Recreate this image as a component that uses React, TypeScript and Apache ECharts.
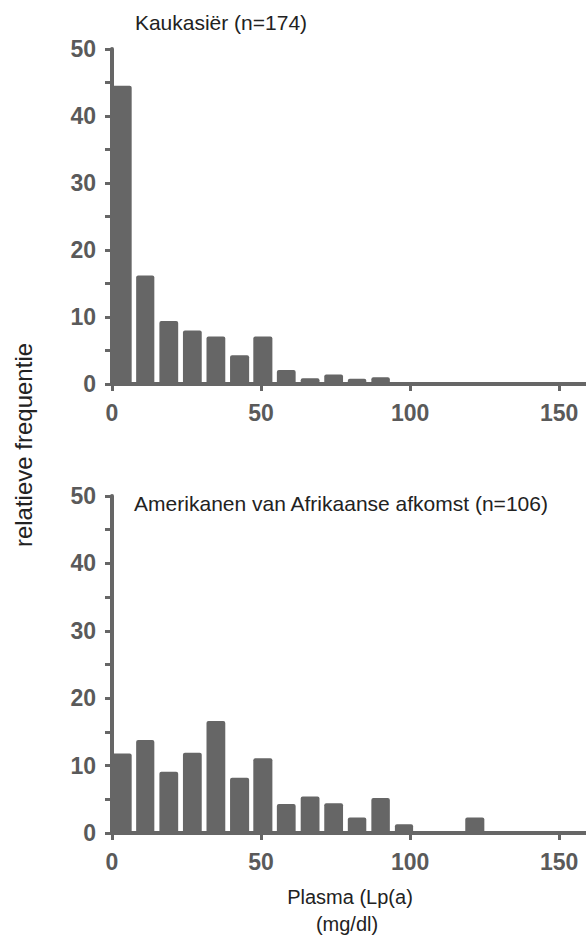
import React, { useEffect, useRef } from "react";
import * as echarts from "echarts";

// Bin edges (mg/dl) shared by both histograms
const binLeft = [0, 8.1, 15.9, 23.8, 31.7, 39.6, 47.4, 55.3, 63.3, 71.2, 79.1, 87.0, 94.9, 102.8, 110.7, 118.5];
const binRight = [6.6, 14.2, 22.2, 30.1, 38.0, 46.0, 53.8, 61.6, 69.6, 77.5, 85.3, 93.2, 101.0, 108.9, 116.8, 124.9];

// Relative frequency (%)
const caucasianValues = [44.5, 16.2, 9.4, 8.0, 7.1, 4.3, 7.1, 2.1, 0.85, 1.4, 0.8, 1.0];
const africanAmericanValues = [11.8, 13.8, 9.1, 11.9, 16.6, 8.2, 11.1, 4.3, 5.4, 4.4, 2.3, 5.2, 1.3, 0, 0, 2.3];

const xTicks = [0, 50, 100, 150];
const titleTop = "Kaukasiër (n=174)";
const titleBottom = "Amerikanen van Afrikaanse afkomst (n=106)";
const yName = "relatieve frequentie";
const xNameLine1 = "Plasma (Lp(a)";
const xNameLine2 = "(mg/dl)";

const AXIS_COLOR = "#666666";
const NUM_FONT = "'Liberation Sans', Arial, sans-serif";
const TEXT_FONT = "'Liberation Sans', Arial, sans-serif";

function toData(values: number[]) {
  return values.map((v, i) => [binLeft[i], binRight[i], v]);
}

export default function App() {
  const ref = useRef<HTMLDivElement>(null);

  useEffect(() => {
    if (!ref.current) return;
    const chart = echarts.init(ref.current, null, { renderer: "svg" });

    const xAxisBase = (gridIndex: number) => ({
      type: "value",
      gridIndex,
      min: 0,
      max: 159,
      interval: 50,
      splitLine: { show: false },
      axisLine: { show: true, lineStyle: { color: AXIS_COLOR, width: 4 } },
      axisTick: { show: true, customValues: xTicks, length: 7, lineStyle: { color: AXIS_COLOR, width: 3 } },
      axisLabel: {
        customValues: xTicks,
        margin: 17,
        color: "#5a5a5a",
        fontFamily: NUM_FONT,
        fontWeight: "bold",
        fontSize: 23,
      },
    });

    const yAxisBase = (gridIndex: number) => ({
      type: "value",
      gridIndex,
      min: 0,
      max: 50,
      interval: 5,
      splitLine: { show: false },
      axisLine: { show: true, lineStyle: { color: AXIS_COLOR, width: 4 } },
      axisTick: { show: true, length: 7, lineStyle: { color: AXIS_COLOR, width: 3 } },
      axisLabel: {
        margin: 16,
        color: "#5a5a5a",
        fontFamily: NUM_FONT,
        fontWeight: "bold",
        fontSize: 23,
        formatter: (v: number) => (v % 10 === 0 ? String(v) : ""),
      },
    });

    const renderItem = (params: any, api: any) => {
      const x0 = api.value(0);
      const x1 = api.value(1);
      const v = api.value(2);
      const p0 = api.coord([x0, v]);
      const p1 = api.coord([x1, 0]);
      return {
        type: "rect",
        shape: { x: p0[0], y: p0[1], width: p1[0] - p0[0], height: p1[1] - p0[1], r: [2, 2, 0, 0] },
        style: { fill: AXIS_COLOR },
      };
    };

    chart.setOption({
      animation: false,
      backgroundColor: "#ffffff",
      grid: [
        { left: 112, top: 49, width: 474, height: 335 },
        { left: 112, top: 496, width: 474, height: 337 },
      ],
      xAxis: [xAxisBase(0), xAxisBase(1)],
      yAxis: [yAxisBase(0), yAxisBase(1)],
      series: [
        {
          type: "custom",
          xAxisIndex: 0,
          yAxisIndex: 0,
          renderItem,
          encode: { x: [0, 1], y: 2 },
          data: toData(caucasianValues),
          z: 1,
        },
        {
          type: "custom",
          xAxisIndex: 1,
          yAxisIndex: 1,
          renderItem,
          encode: { x: [0, 1], y: 2 },
          data: toData(africanAmericanValues),
          z: 1,
        },
      ],
      graphic: [
        {
          type: "text",
          x: 221,
          y: 22,
          style: { text: titleTop, font: `21px ${TEXT_FONT}`, fill: "#222", textAlign: "center", textVerticalAlign: "middle" },
        },
        {
          type: "text",
          x: 341,
          y: 503,
          style: { text: titleBottom, font: `21px ${TEXT_FONT}`, fill: "#222", textAlign: "center", textVerticalAlign: "middle" },
        },
        {
          type: "text",
          x: 23,
          y: 445,
          rotation: Math.PI / 2,
          style: { text: yName, font: `24px ${TEXT_FONT}`, fill: "#222", textAlign: "center", textVerticalAlign: "middle" },
        },
        {
          type: "text",
          x: 350,
          y: 897,
          style: { text: xNameLine1, font: `20px ${TEXT_FONT}`, fill: "#222", textAlign: "center", textVerticalAlign: "middle" },
        },
        {
          type: "text",
          x: 347,
          y: 924,
          style: { text: xNameLine2, font: `20px ${TEXT_FONT}`, fill: "#222", textAlign: "center", textVerticalAlign: "middle" },
        },
      ],
    });

    return () => chart.dispose();
  }, []);

  return <div ref={ref} style={{ position: "absolute", left: 0, top: 0, width: 586, height: 936 }} />;
}
